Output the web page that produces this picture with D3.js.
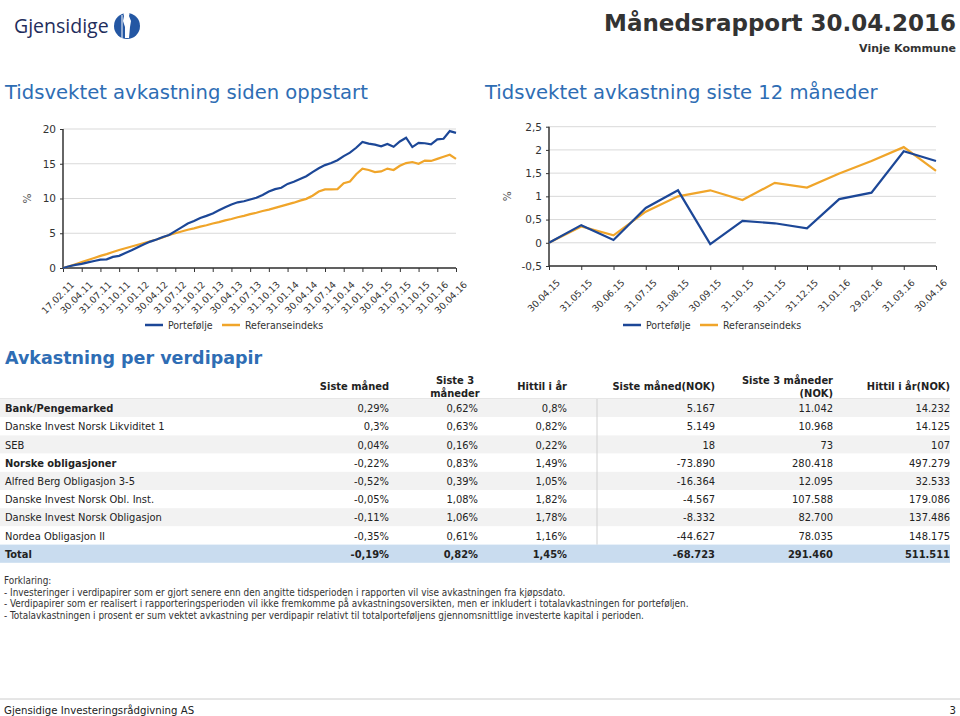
<!DOCTYPE html>
<html><head><meta charset="utf-8">
<script src="https://cdn.jsdelivr.net/npm/d3@7"></script>
<style>
body{margin:0;background:#fff;}
svg{display:block;}
</style></head>
<body>
<svg id="c" width="960" height="716"></svg>
<script>
// ---------- DATA ----------
const longDates = ["17.02.11","30.04.11","31.07.11","31.10.11","31.01.12","30.04.12","31.07.12","31.10.12","31.01.13","30.04.13","31.07.13","31.10.13","31.01.14","30.04.14","31.07.14","31.10.14","31.01.15","30.04.15","31.07.15","31.10.15","31.01.16","30.04.16"];
const longPortefolje = [0,0.25,0.45,0.6,0.8,1.0,1.2,1.25,1.6,1.75,2.15,2.55,3.0,3.4,3.8,4.1,4.45,4.75,5.3,5.85,6.4,6.75,7.2,7.5,7.85,8.3,8.75,9.15,9.45,9.6,9.85,10.1,10.5,11.0,11.35,11.55,12.1,12.4,12.8,13.2,13.8,14.35,14.8,15.1,15.5,16.1,16.6,17.3,18.15,17.9,17.75,17.5,17.85,17.45,18.2,18.75,17.4,18.0,17.95,17.8,18.5,18.6,19.7,19.45];
const longReferanse = [0,0.25,0.55,0.85,1.15,1.45,1.75,2.0,2.3,2.6,2.85,3.1,3.35,3.6,3.85,4.1,4.4,4.75,5.0,5.25,5.5,5.7,5.95,6.15,6.4,6.6,6.85,7.05,7.3,7.5,7.75,7.95,8.2,8.4,8.65,8.9,9.15,9.4,9.7,9.95,10.4,11.0,11.3,11.3,11.35,12.2,12.45,13.5,14.3,14.1,13.8,13.9,14.3,14.1,14.7,15.1,15.25,15.0,15.45,15.4,15.7,16.0,16.3,15.7];
const longYTicks = [0,5,10,15,20];

const shortDates = ["30.04.15","31.05.15","30.06.15","31.07.15","31.08.15","30.09.15","31.10.15","30.11.15","31.12.15","31.01.16","29.02.16","31.03.16","30.04.16"];
const shortPortefolje = [0,0.38,0.06,0.75,1.13,-0.03,0.47,0.42,0.31,0.94,1.08,1.97,1.76];
const shortReferanse = [0,0.35,0.16,0.67,1.0,1.13,0.92,1.29,1.19,1.49,1.76,2.06,1.55];
const shortYTicks = [-0.5,0,0.5,1,1.5,2,2.5];

const seriesNames = ["Portefølje","Referanseindeks"];

const colHeaders = [["Siste måned"],["Siste 3","måneder"],["Hittil i år"],["Siste måned(NOK)"],["Siste 3 måneder","(NOK)"],["Hittil i år(NOK)"]];
const rowNames = ["Bank/Pengemarked","Danske Invest Norsk Likviditet 1","SEB","Norske obligasjoner","Alfred Berg Obligasjon 3-5","Danske Invest Norsk Obl. Inst.","Danske Invest Norsk Obligasjon","Nordea Obligasjon II","Total"];
const rowBold = [true,false,false,true,false,false,false,false,true];
const colSisteManed = ["0,29%","0,3%","0,04%","-0,22%","-0,52%","-0,05%","-0,11%","-0,35%","-0,19%"];
const colSiste3 = ["0,62%","0,63%","0,16%","0,83%","0,39%","1,08%","1,06%","0,61%","0,82%"];
const colHittil = ["0,8%","0,82%","0,22%","1,49%","1,05%","1,82%","1,78%","1,16%","1,45%"];
const colSisteManedNok = ["5.167","5.149","18","-73.890","-16.364","-4.567","-8.332","-44.627","-68.723"];
const colSiste3Nok = ["11.042","10.968","73","280.418","12.095","107.588","82.700","78.035","291.460"];
const colHittilNok = ["14.232","14.125","107","497.279","32.533","179.086","137.486","148.175","511.511"];

const notes = ["Forklaring:",
"- Investeringer i verdipapirer som er gjort senere enn den angitte tidsperioden i rapporten vil vise avkastningen fra kjøpsdato.",
"- Verdipapirer som er realisert i rapporteringsperioden vil ikke fremkomme på avkastningsoversikten, men er inkludert i totalavkastningen for porteføljen.",
"- Totalavkastningen i prosent er sum vektet avkastning per verdipapir relativt til totalporteføljens gjennomsnittlige investerte kapital i perioden."];

// ---------- STYLE ----------
const BLUE = "#1c4797", ORANGE = "#f0a52a", HEAD_BLUE = "#2e6db4", TXT = "#333";
const F = "'DejaVu Sans Condensed','DejaVu Sans',sans-serif";
const FW = "'DejaVu Sans',Verdana,sans-serif";

const svg = d3.select("#c");

// ---------- HEADER ----------
svg.append("text").attr("x",14).attr("y",33).attr("font-family","'Open Sans',sans-serif")
  .attr("font-size",19.5).attr("fill","#1f2d5c").text("Gjensidige");
svg.append("circle").attr("cx",127).attr("cy",26).attr("r",13).attr("fill","#2457a3");
svg.append("path").attr("d","M124,16 a3,3 0 1,1 5,0 l2,5 l-1,6 l-1,11 l-4,0 l0,-11 l-2,-6 z").attr("fill","#fff");
svg.append("line").attr("x1",122).attr("x2",122).attr("y1",15).attr("y2",38).attr("stroke","#fff").attr("stroke-width",1);

svg.append("text").attr("x",956).attr("y",31).attr("text-anchor","end").attr("font-family",FW)
  .attr("font-weight","bold").attr("font-size",23).attr("fill",TXT).text("Månedsrapport 30.04.2016");
svg.append("text").attr("x",956).attr("y",52).attr("text-anchor","end").attr("font-family",FW)
  .attr("font-weight","bold").attr("font-size",11).attr("fill",TXT).text("Vinje Kommune");

svg.append("text").attr("x",5).attr("y",99).attr("font-family",FW).attr("font-size",19.6)
  .attr("fill",HEAD_BLUE).text("Tidsvektet avkastning siden oppstart");
svg.append("text").attr("x",485).attr("y",99).attr("font-family",FW).attr("font-size",19.6)
  .attr("fill",HEAD_BLUE).text("Tidsvektet avkastning siste 12 måneder");

// ---------- CHART HELPER ----------
function drawChart(opt){
  const g = svg.append("g");
  const x = d3.scaleLinear().domain([0, opt.n-1]).range([opt.x0, opt.x1]);
  const y = d3.scaleLinear().domain(opt.yDomain).range([opt.yBottom, opt.yTop]);
  g.selectAll(".grid").data(opt.yTicks).join("line")
    .attr("x1",opt.x0).attr("x2",opt.x1).attr("y1",d=>y(d)).attr("y2",d=>y(d))
    .attr("stroke","#d9d9d9").attr("stroke-width",1);
  const ya = d3.axisLeft(y).tickValues(opt.yTicks).tickSize(3).tickFormat(opt.fmt);
  const yg = g.append("g").attr("transform",`translate(${opt.x0},0)`).call(ya);
  yg.select(".domain").attr("stroke","#333").attr("stroke-width",1.5).attr("d",`M0,${opt.yBottom}V${opt.yTop}`);
  yg.selectAll(".tick line").attr("stroke","#333");
  yg.selectAll("text").attr("font-family",FW).attr("font-size",10.5).attr("fill",TXT).attr("dx",-1);
  const tickIdx = opt.labels.map((d,i)=>opt.labelIndex(i));
  const xa = d3.axisBottom(x).tickValues(tickIdx).tickSize(4).tickFormat((d,i)=>opt.labels[i]);
  const xg = g.append("g").attr("transform",`translate(0,${opt.yBottom})`).call(xa);
  xg.select(".domain").attr("stroke","#333").attr("stroke-width",1.5).attr("d",`M${opt.x0},0H${opt.x1}`);
  xg.selectAll(".tick line").attr("stroke","#333");
  xg.selectAll("text").attr("font-family",FW).attr("font-size",9.3).attr("fill",TXT)
    .attr("text-anchor","end").attr("dy","0.35em").attr("transform","translate(4,10) rotate(-45)");
  g.append("text").attr("transform",`translate(${opt.pctX},${(opt.yTop+opt.yBottom)/2}) rotate(-90)`)
    .attr("text-anchor","middle").attr("font-family",FW).attr("font-size",10.5).attr("fill","#555").text("%");
  const line = d3.line().x((d,i)=>x(i)).y(d=>y(d));
  g.append("path").datum(opt.ref).attr("d",line).attr("fill","none").attr("stroke",ORANGE).attr("stroke-width",2.2);
  g.append("path").datum(opt.port).attr("d",line).attr("fill","none").attr("stroke",BLUE).attr("stroke-width",2.2);
  const lg = g.append("g").attr("transform",`translate(${opt.legX},325)`);
  [BLUE,ORANGE].forEach((c,i)=>{
    const ox = i===0?0:opt.legGap;
    lg.append("line").attr("x1",ox).attr("x2",ox+18).attr("y1",0).attr("y2",0).attr("stroke",c).attr("stroke-width",2.5);
    lg.append("text").attr("x",ox+23).attr("y",4).attr("font-family",F).attr("font-size",10.5).attr("fill",TXT).text(seriesNames[i]);
  });
}

drawChart({n:longPortefolje.length, x0:63, x1:456, yTop:129, yBottom:268, yDomain:[0,20], yTicks:longYTicks,
  fmt:d3.format("d"), labels:longDates, labelIndex:i=>i*3, port:longPortefolje, ref:longReferanse,
  pctX:31, legX:145, legGap:77});
drawChart({n:shortPortefolje.length, x0:549, x1:936, yTop:126.7, yBottom:266, yDomain:[-0.5,2.5], yTicks:shortYTicks,
  fmt:d=>String(d).replace(".",","), labels:shortDates, labelIndex:i=>i, port:shortPortefolje, ref:shortReferanse,
  pctX:511, legX:623, legGap:77});

// ---------- TABLE ----------
svg.append("text").attr("x",5).attr("y",364).attr("font-family",FW).attr("font-weight","bold").attr("font-size",17.5)
  .attr("fill",HEAD_BLUE).text("Avkastning per verdipapir");

const colRight = [389,478,567,715,833,950];
const cols = [colSisteManed,colSiste3,colHittil,colSisteManedNok,colSiste3Nok,colHittilNok];
const rowH = 18.2, rowTop = 399;
const ty = d3.scaleBand().domain(d3.range(rowNames.length)).range([rowTop,rowTop+rowH*rowNames.length]);

colHeaders.forEach((h,ci)=>{
  const centered = ci===1;
  const xx = centered?455:colRight[ci];
  const y0 = h.length===1?390:383.5;
  h.forEach((s,k)=>svg.append("text").attr("font-family",F).attr("font-weight","bold").attr("font-size",11).attr("fill","#222")
    .attr("text-anchor",centered?"middle":"end").attr("x",xx).attr("y",y0+k*13).text(s));
});
svg.append("line").attr("x1",0).attr("x2",950).attr("y1",rowTop).attr("y2",rowTop).attr("stroke","#ccc");

rowNames.forEach((r,i)=>{
  const yy = ty(i);
  const isTotal = i===rowNames.length-1;
  const fill = isTotal?"#c9dcef":(i%2===0?"#f2f2f2":"#fff");
  svg.append("rect").attr("x",0).attr("y",yy).attr("width",950).attr("height",ty.bandwidth()).attr("fill",fill);
});
svg.append("line").attr("x1",597).attr("x2",597).attr("y1",rowTop).attr("y2",ty(rowNames.length-1)).attr("stroke","#d0d0d0");
rowNames.forEach((r,i)=>{
  const yy = ty(i)+ty.bandwidth()/2+4;
  const isTotal = i===rowNames.length-1;
  svg.append("text").attr("x",5).attr("y",yy).attr("font-family",F).attr("font-size",11)
    .attr("font-weight",rowBold[i]?"bold":"normal").attr("fill","#222").text(r);
  cols.forEach((c,ci)=>{
    svg.append("text").attr("x",colRight[ci]).attr("y",yy).attr("text-anchor","end").attr("font-family",F)
      .attr("font-size",11).attr("font-weight",isTotal?"bold":"normal").attr("fill","#222").text(c[i]);
  });
});

// ---------- NOTES ----------
notes.forEach((s,i)=>{
  svg.append("text").attr("x",4).attr("y",584+i*11.5).attr("font-family",F).attr("font-size",9.9).attr("fill","#333").text(s);
});

// ---------- FOOTER ----------
svg.append("line").attr("x1",0).attr("x2",960).attr("y1",699).attr("y2",699).attr("stroke","#ccc");
svg.append("text").attr("x",4).attr("y",714).attr("font-family",F).attr("font-size",11.3).attr("fill","#222").text("Gjensidige Investeringsrådgivning AS");
svg.append("text").attr("x",956).attr("y",714).attr("text-anchor","end").attr("font-family",F).attr("font-size",11.3).attr("fill","#222").text("3");
</script>
</body></html>
